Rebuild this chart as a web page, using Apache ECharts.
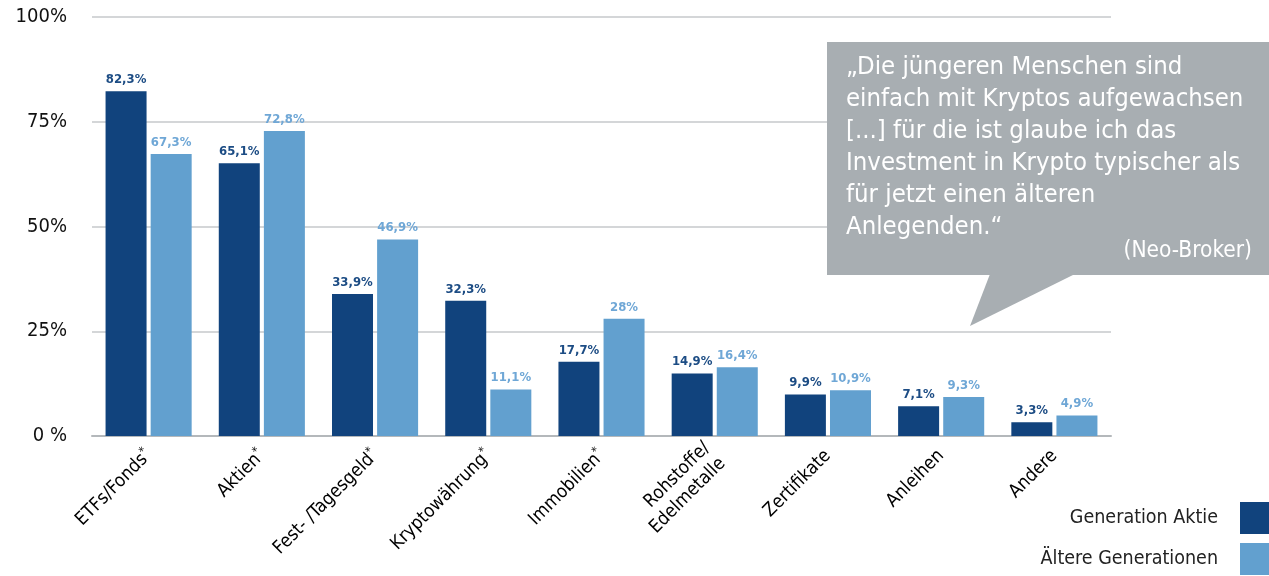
<!DOCTYPE html>
<html>
<head>
<meta charset="utf-8">
<script src="https://cdn.jsdelivr.net/npm/echarts@6/dist/echarts.min.js"></script>
<style>
  html, body { margin: 0; padding: 0; background: #fff; }
  #chart { width: 1269px; height: 576px; }
</style>
</head>
<body>
<div id="chart"></div>
<script>
// Anlageklassen (Sternchen = signifikanter Unterschied)
const categories = ['ETFs/Fonds*', 'Aktien*', 'Fest- /Tagesgeld*', 'Kryptowährung*', 'Immobilien*',
  'Rohstoffe/\nEdelmetalle', 'Zertifikate', 'Anleihen', 'Andere'];
const generationAktie = [82.3, 65.1, 33.9, 32.3, 17.7, 14.9, 9.9, 7.1, 3.3];
const aeltereGenerationen = [67.3, 72.8, 46.9, 11.1, 28, 16.4, 10.9, 9.3, 4.9];
const seriesNames = ['Generation Aktie', 'Ältere Generationen'];
const yTickLabels = { 0: '0 %', 25: '25%', 50: '50%', 75: '75%', 100: '100%' };

const quoteLines = [
  '„Die jüngeren Menschen sind',
  'einfach mit Kryptos aufgewachsen',
  '[...] für die ist glaube ich das',
  'Investment in Krypto typischer als',
  'für jetzt einen älteren',
  'Anlegenden.“'
];
const quoteSource = '(Neo-Broker)';

const FONT = '"Liberation Sans Narrow", "DejaVu Sans Condensed", "Noto Sans", sans-serif';
const DARK = '#11437d';
const LIGHT = '#62a0cf';
const BUBBLE = '#a8aeb2';

const fmtValue = v => String(v).replace('.', ',') + '%';

// Sternchen als hochgestelltes Zeichen darstellen
function catLabel(name) {
  if (name.endsWith('*')) return name.slice(0, -1) + '{sup|*}';
  return name;
}

const chart = echarts.init(document.getElementById('chart'), null, { renderer: 'canvas' });

const option = {
  backgroundColor: '#ffffff',
  animation: false,
  textStyle: { fontFamily: FONT },
  grid: { left: 92, right: 158, top: 17, bottom: 140, containLabel: false },
  legend: {
    orient: 'vertical',
    right: -2,
    top: 502,
    padding: 0,
    align: 'right',
    itemWidth: 31,
    itemHeight: 32,
    itemGap: 9,
    icon: 'rect',
    textStyle: { fontFamily: FONT, fontSize: 19.5, color: '#222', padding: [0, 17, 0, 0] },
    data: seriesNames
  },
  xAxis: {
    type: 'category',
    data: categories,
    axisLine: { show: true, lineStyle: { color: '#b4b8bb', width: 2 } },
    axisTick: { show: false },
    axisLabel: {
      interval: 0,
      rotate: 45,
      margin: 17,
      fontFamily: FONT,
      fontSize: 18.5,
      color: '#000',
      lineHeight: 22,
      formatter: catLabel,
      rich: {
        sup: { fontSize: 12, color: '#000', verticalAlign: 'top', padding: [0, 0, 8, 0], fontFamily: FONT }
      }
    }
  },
  yAxis: {
    type: 'value',
    min: 0,
    max: 100,
    interval: 25,
    axisLine: { show: false },
    axisTick: { show: false },
    splitLine: { lineStyle: { color: '#c6c9cb', width: 1.5 } },
    axisLabel: {
      margin: 25,
      fontFamily: FONT,
      fontSize: 20,
      color: '#111',
      formatter: v => yTickLabels[v] || ''
    }
  },
  series: [
    {
      name: seriesNames[0],
      type: 'bar',
      data: generationAktie,
      barWidth: 41,
      barGap: '10%',
      itemStyle: { color: DARK },
      label: {
        show: true, position: 'top', distance: 5,
        fontFamily: FONT, fontSize: 13, fontWeight: 'bold', color: '#1c4c84',
        formatter: p => fmtValue(p.value)
      }
    },
    {
      name: seriesNames[1],
      type: 'bar',
      data: aeltereGenerationen,
      barWidth: 41,
      barGap: '10%',
      itemStyle: { color: LIGHT },
      label: {
        show: true, position: 'top', distance: 5,
        fontFamily: FONT, fontSize: 13, fontWeight: 'bold', color: '#6fa7d6',
        formatter: p => fmtValue(p.value)
      }
    }
  ],
  // Sprechblase mit Zitat, über den Gitterlinien
  graphic: [
    {
      type: 'rect',
      z: 100,
      shape: { x: 827, y: 42, width: 442, height: 233 },
      style: { fill: BUBBLE }
    },
    {
      type: 'polygon',
      z: 100,
      shape: { points: [[990, 274], [1075, 274], [970, 326]] },
      style: { fill: BUBBLE }
    },
    {
      type: 'text',
      z: 101,
      x: 846, y: 51,
      style: {
        text: quoteLines.join('\n'),
        fill: '#ffffff',
        font: '25.5px ' + FONT,
        lineHeight: 32,
        textVerticalAlign: 'top'
      }
    },
    {
      type: 'text',
      z: 101,
      x: 1252, y: 240,
      style: {
        text: quoteSource,
        fill: '#ffffff',
        font: '22.5px ' + FONT,
        textAlign: 'right',
        textVerticalAlign: 'top'
      }
    }
  ]
};

chart.setOption(option);
</script>
</body>
</html>
